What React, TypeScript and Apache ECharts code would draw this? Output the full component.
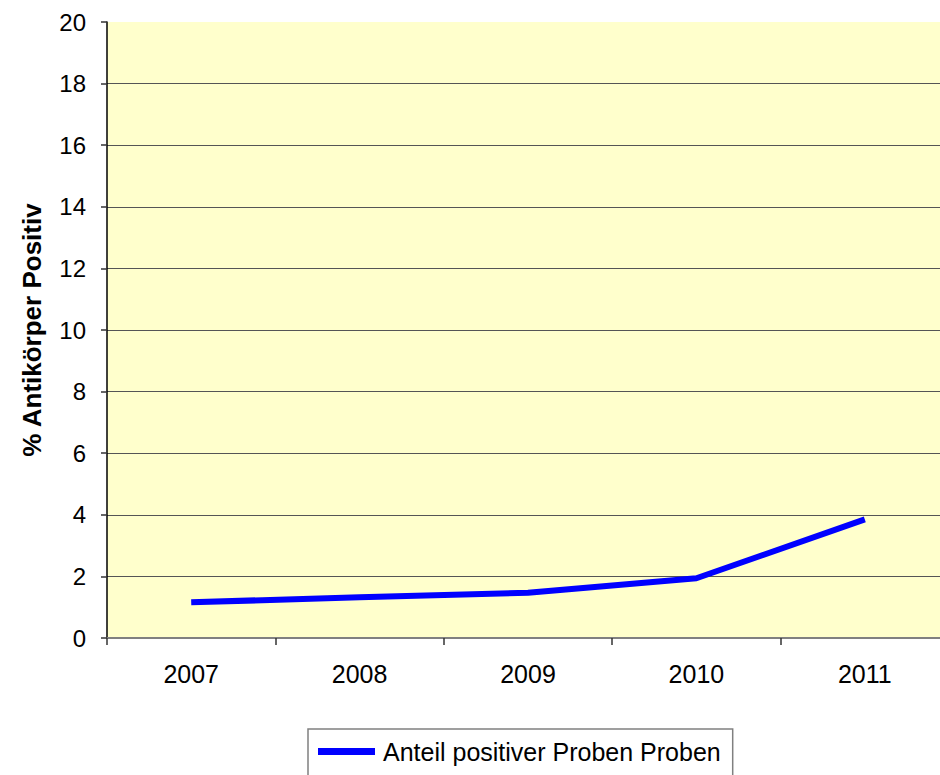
import React, { useEffect, useRef } from "react";
import * as echarts from "echarts";

const years = ["2007", "2008", "2009", "2010", "2011"];
const positiveShare = [1.16, 1.32, 1.47, 1.94, 3.85];
const seriesName = "Anteil positiver Proben Proben";
const yAxisName = "% Antikörper Positiv";

export default function App() {
  const ref = useRef<HTMLDivElement>(null);
  useEffect(() => {
    if (!ref.current) return;
    const chart = echarts.init(ref.current, undefined, { renderer: "svg" });
    const font = "'Liberation Sans', Arial, sans-serif";
    chart.setOption({
      animation: false,
      backgroundColor: "#ffffff",
      textStyle: { fontFamily: font },
      grid: {
        left: 107,
        top: 22,
        width: 842,
        height: 616,
        show: true,
        backgroundColor: "#FFFFCC",
        borderWidth: 0,
      },
      xAxis: {
        type: "category",
        data: years,
        boundaryGap: true,
        axisLine: { show: true, lineStyle: { color: "#808080", width: 2 } },
        axisTick: { show: true, length: 7, lineStyle: { color: "#333", width: 1.5 } },
        axisLabel: { color: "#000", fontSize: 25, margin: 23, fontFamily: font },
        splitLine: { show: false },
      },
      yAxis: {
        type: "value",
        min: 0,
        max: 20,
        interval: 2,
        name: yAxisName,
        nameLocation: "middle",
        nameGap: 62,
        nameRotate: 90,
        nameTextStyle: { color: "#000", fontSize: 26, fontWeight: "bold", fontFamily: font },
        axisLine: { show: true, lineStyle: { color: "#000", width: 1.5 } },
        axisTick: { show: true, length: 6, lineStyle: { color: "#333", width: 1.5 } },
        axisLabel: { color: "#000", fontSize: 24, margin: 21, fontFamily: font },
        splitLine: {
          show: true,
          showMinLine: false,
          showMaxLine: false,
          lineStyle: { color: "#555", width: 1 },
        },
      },
      legend: {
        left: 308,
        top: 729,
        padding: [10, 12, 40, 10],
        borderColor: "#808080",
        borderWidth: 1.5,
        itemWidth: 57,
        itemHeight: 7,
        icon: "rect",
        textStyle: { color: "#000", fontSize: 25, fontFamily: font, padding: [0, 0, 0, 3] },
        data: [seriesName],
      },
      series: [
        {
          name: seriesName,
          type: "line",
          data: positiveShare,
          symbol: "none",
          lineStyle: { color: "#0000FF", width: 6 },
          itemStyle: { color: "#0000FF" },
        },
      ],
    });
    return () => chart.dispose();
  }, []);
  return (
    <div style={{ position: "fixed", left: 0, top: 0, width: 940, height: 775, overflow: "hidden" }}>
      <div ref={ref} style={{ width: 960, height: 775 }} />
    </div>
  );
}
